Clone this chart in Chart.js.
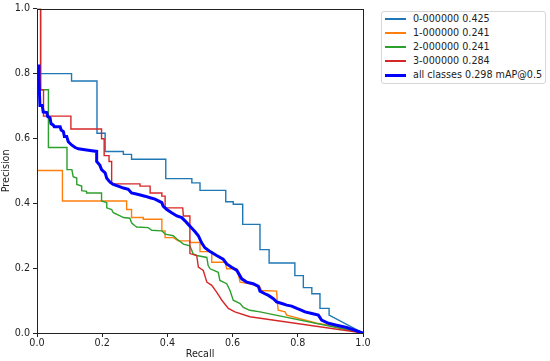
<!DOCTYPE html>
<html>
<head>
<meta charset="utf-8">
<script src="https://cdn.jsdelivr.net/npm/chart.js@4/dist/chart.umd.min.js"></script>
<style>
    html, body { margin: 0; padding: 0; background: #fff; }
    #wrap { position: relative; width: 550px; height: 361px; }
    #legend {
        position: absolute; left: 381px; top: 11px; width: 163px; height: 71px;
        border: 1px solid #d6d6d6; border-radius: 3px; background: #fff;
        font-family: "DejaVu Sans", sans-serif; font-size: 9.6px; color: #222;
    }
    .row { position: absolute; left: 0; width: 160px; height: 12px; line-height: 12px; white-space: nowrap; }
    .swatch { position: absolute; left: 3px; width: 21px; }
    .label { position: absolute; left: 31px; top: 0; }
</style>
</head>
<body>
<div id="wrap">
    <canvas id="pr" width="550" height="361"></canvas>
    <div id="legend"></div>
</div>
<script>
// PR curve values (recall, precision pairs)
const classNames = ['0-000000 0.425', '1-000000 0.241', '2-000000 0.241', '3-000000 0.284'];
const meanName = 'all classes 0.298 mAP@0.5';

const recall0 = [0, 0.106, 0.106, 0.184, 0.184, 0.209, 0.209, 0.265, 0.265, 0.290, 0.290, 0.395, 0.395, 0.475, 0.475, 0.500, 0.500, 0.579, 0.579, 0.602, 0.602, 0.631, 0.631, 0.684, 0.684, 0.712, 0.712, 0.791, 0.791, 0.817, 0.817, 0.843, 0.843, 0.868, 0.868, 0.896, 0.896, 1.0];
const precision0 = [0.800, 0.800, 0.777, 0.777, 0.616, 0.616, 0.560, 0.560, 0.551, 0.551, 0.536, 0.536, 0.476, 0.476, 0.463, 0.463, 0.440, 0.440, 0.405, 0.405, 0.397, 0.397, 0.335, 0.335, 0.257, 0.257, 0.216, 0.216, 0.177, 0.177, 0.140, 0.140, 0.121, 0.121, 0.076, 0.076, 0.055, 0.0];

const recall1 = [0, 0.078, 0.078, 0.275, 0.275, 0.290, 0.290, 0.326, 0.326, 0.383, 0.383, 0.393, 0.393, 0.418, 0.433, 0.469, 0.469, 0.500, 0.500, 0.536, 0.536, 0.577, 0.582, 0.613, 0.617, 0.623, 0.653, 0.684, 0.689, 0.735, 0.737, 0.740, 0.761, 0.766, 0.858, 0.894, 1.0];
const precision1 = [0.501, 0.501, 0.407, 0.407, 0.381, 0.381, 0.356, 0.356, 0.351, 0.351, 0.315, 0.315, 0.294, 0.294, 0.284, 0.284, 0.279, 0.279, 0.251, 0.251, 0.218, 0.218, 0.198, 0.198, 0.183, 0.157, 0.152, 0.142, 0.131, 0.129, 0.096, 0.070, 0.065, 0.055, 0.030, 0.024, 0.0];

const recall2 = [0, 0.011, 0.011, 0.035, 0.035, 0.092, 0.092, 0.107, 0.111, 0.122, 0.122, 0.137, 0.137, 0.152, 0.152, 0.198, 0.198, 0.214, 0.214, 0.229, 0.234, 0.255, 0.265, 0.285, 0.290, 0.301, 0.306, 0.341, 0.352, 0.383, 0.393, 0.418, 0.429, 0.449, 0.469, 0.479, 0.490, 0.521, 0.525, 0.531, 0.556, 0.561, 0.582, 0.592, 0.602, 0.623, 0.633, 0.653, 0.684, 1.0];
const precision2 = [1.0, 1.0, 0.750, 0.750, 0.572, 0.572, 0.504, 0.504, 0.482, 0.478, 0.458, 0.453, 0.439, 0.437, 0.432, 0.432, 0.407, 0.402, 0.386, 0.381, 0.371, 0.361, 0.356, 0.354, 0.340, 0.330, 0.327, 0.325, 0.317, 0.315, 0.305, 0.300, 0.290, 0.274, 0.269, 0.244, 0.239, 0.233, 0.208, 0.198, 0.187, 0.162, 0.152, 0.131, 0.101, 0.091, 0.079, 0.070, 0.065, 0.0];

const recall3 = [0, 0.011, 0.011, 0.020, 0.020, 0.104, 0.104, 0.198, 0.198, 0.206, 0.206, 0.221, 0.221, 0.229, 0.229, 0.316, 0.316, 0.347, 0.347, 0.383, 0.383, 0.393, 0.393, 0.447, 0.449, 0.469, 0.469, 0.490, 0.495, 0.510, 0.521, 0.536, 0.551, 0.567, 0.587, 0.607, 0.653, 1.0];
const precision3 = [1.0, 1.0, 0.750, 0.750, 0.669, 0.669, 0.629, 0.629, 0.599, 0.599, 0.547, 0.547, 0.529, 0.529, 0.460, 0.460, 0.453, 0.453, 0.432, 0.432, 0.422, 0.422, 0.386, 0.386, 0.361, 0.361, 0.245, 0.239, 0.203, 0.193, 0.157, 0.147, 0.126, 0.101, 0.076, 0.065, 0.050, 0.0];

const recallMean = [0.004, 0.006, 0.009, 0.016, 0.019, 0.030, 0.033, 0.040, 0.043, 0.050, 0.053, 0.071, 0.074, 0.081, 0.084, 0.091, 0.096, 0.106, 0.117, 0.127, 0.147, 0.168, 0.183, 0.183, 0.193, 0.198, 0.209, 0.214, 0.224, 0.234, 0.249, 0.265, 0.280, 0.290, 0.311, 0.331, 0.347, 0.362, 0.383, 0.387, 0.398, 0.413, 0.429, 0.444, 0.454, 0.464, 0.475, 0.485, 0.495, 0.505, 0.515, 0.531, 0.551, 0.571, 0.582, 0.597, 0.613, 0.628, 0.643, 0.663, 0.679, 0.684, 0.699, 0.710, 0.725, 0.735, 0.751, 0.766, 0.781, 0.797, 0.812, 0.822, 0.843, 0.863, 0.873, 0.894, 0.919, 0.950, 1.0];
const precisionMean = [0.828, 0.784, 0.702, 0.702, 0.682, 0.680, 0.667, 0.664, 0.646, 0.641, 0.636, 0.636, 0.626, 0.621, 0.606, 0.606, 0.590, 0.580, 0.572, 0.568, 0.565, 0.562, 0.560, 0.529, 0.517, 0.504, 0.494, 0.477, 0.465, 0.458, 0.453, 0.447, 0.443, 0.432, 0.427, 0.422, 0.417, 0.413, 0.402, 0.391, 0.381, 0.371, 0.361, 0.356, 0.346, 0.335, 0.323, 0.312, 0.300, 0.278, 0.263, 0.251, 0.239, 0.228, 0.213, 0.203, 0.193, 0.167, 0.157, 0.152, 0.144, 0.129, 0.121, 0.116, 0.106, 0.096, 0.091, 0.086, 0.083, 0.076, 0.070, 0.065, 0.060, 0.055, 0.040, 0.030, 0.024, 0.017, 0.0];

const axisTicks = [0, 0.2, 0.4, 0.6, 0.8, 1.0];
const classColors = ['#1f77b4', '#ff7f0e', '#2ca02c', '#d62728'];
const meanColor = '#0000ff';

const FONT = { family: '"DejaVu Sans", sans-serif', size: 9.6 };
const INK = '#222';

function toPoints(rs, ps) {
    return rs.map((r, i) => ({ x: r, y: ps[i] }));
}

const classSeries = [
    [recall0, precision0],
    [recall1, precision1],
    [recall2, precision2],
    [recall3, precision3]
];

const datasets = classSeries.map(([rs, ps], i) => ({
    label: classNames[i],
    data: toPoints(rs, ps),
    borderColor: classColors[i],
    borderWidth: 1.4,
    pointRadius: 0,
    tension: 0,
    order: 4 - i
}));
datasets.push({
    label: meanName,
    data: toPoints(recallMean, precisionMean),
    borderColor: meanColor,
    borderWidth: 3,
    pointRadius: 0,
    tension: 0,
    order: 0
});

// full box around the plot, like matplotlib spines
const frame = {
    id: 'frame',
    afterDatasetsDraw(chart) {
        const { ctx, chartArea: a } = chart;
        ctx.save();
        ctx.strokeStyle = INK;
        ctx.lineWidth = 1;
        ctx.strokeRect(Math.round(a.left) + 0.5, Math.round(a.top) + 0.5,
            Math.round(a.right - a.left), Math.round(a.bottom - a.top));
        ctx.restore();
    }
};

function axis(title, size, isX) {
    return {
        type: 'linear',
        min: 0,
        max: 1,
        afterBuildTicks: s => { s.ticks = axisTicks.map(v => ({ value: v })); },
        afterFit: s => { if (isX) s.height = size; else s.width = size; },
        ticks: {
            font: FONT,
            color: INK,
            padding: isX ? 1 : 3,
            maxRotation: 0,
            callback: v => v.toFixed(1)
        },
        grid: { drawOnChartArea: false, drawTicks: true, tickLength: 4, color: INK },
        border: { display: false },
        title: { display: true, text: title, font: FONT, color: INK, padding: { top: 1, bottom: 1 } }
    };
}

new Chart(document.getElementById('pr'), {
    type: 'line',
    data: { datasets },
    options: {
        responsive: false,
        animation: false,
        devicePixelRatio: 1,
        layout: { padding: { top: 6, right: 187, left: 0, bottom: 0 } },
        plugins: { legend: { display: false }, tooltip: { enabled: false } },
        scales: {
            x: axis('Recall', 28, true),
            y: axis('Precision', 37, false)
        }
    },
    plugins: [frame]
});

// legend in matplotlib style
const legendEl = document.getElementById('legend');
const legendItems = classNames.map((n, i) => ({ name: n, color: classColors[i], width: 2 }))
    .concat([{ name: meanName, color: meanColor, width: 3 }]);
legendItems.forEach((item, i) => {
    const row = document.createElement('div');
    row.className = 'row';
    row.style.top = Math.round(1 + i * 13.9) + 'px';
    const sw = document.createElement('div');
    sw.className = 'swatch';
    sw.style.height = item.width + 'px';
    sw.style.top = (6 - Math.floor(item.width / 2)) + 'px';
    sw.style.backgroundColor = item.color;
    const lab = document.createElement('div');
    lab.className = 'label';
    lab.textContent = item.name;
    row.appendChild(sw);
    row.appendChild(lab);
    legendEl.appendChild(row);
});
</script>
</body>
</html>
